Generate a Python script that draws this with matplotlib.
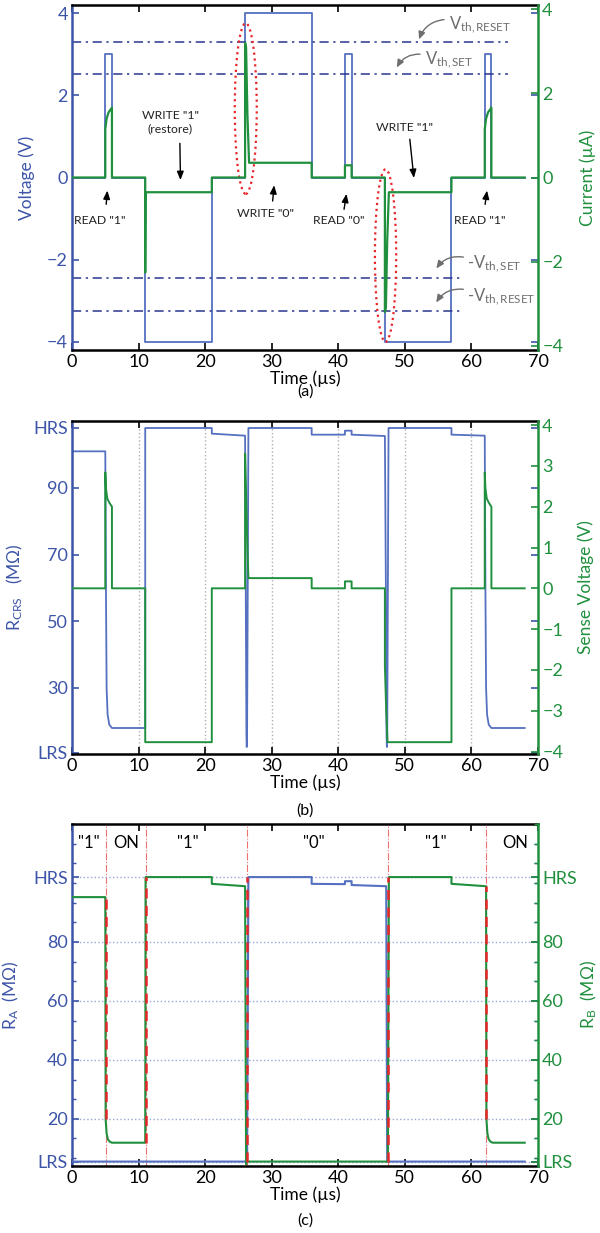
import matplotlib
matplotlib.use('Agg')
import matplotlib.pyplot as plt
from matplotlib.patches import Ellipse
from matplotlib.ticker import MultipleLocator

plt.rcParams['font.family'] = ['Lato', 'DejaVu Sans']
plt.rcParams['mathtext.fontset'] = 'custom'
plt.rcParams['mathtext.rm'] = 'Lato'
plt.rcParams['mathtext.it'] = 'Lato:italic'
plt.rcParams['mathtext.bf'] = 'Lato:bold'
plt.rcParams['xtick.direction'] = 'in'
plt.rcParams['ytick.direction'] = 'in'

BLUE = '#3d55a8'
BLUE_LINE = '#5570c0'
GREEN = '#20903e'
NAVY = '#2a3590'
GRAY = '#6e6e6e'
RED = '#e8262a'

# ---- (a) applied voltage and current ----
t_v = [0, 5, 5, 6, 6, 11, 11, 21, 21, 26, 26, 36, 36, 41, 41, 42, 42, 47, 47, 57, 57, 62, 62, 63, 63, 68]
volt = [0, 0, 3, 3, 0, 0, -4, -4, 0, 0, 4, 4, 0, 0, 3, 3, 0, 0, -4, -4, 0, 0, 3, 3, 0, 0]

t_i = [0, 5, 5, 5.2, 5.5, 6, 6, 11, 11, 11.05, 21, 21, 26, 26, 26.15, 26.35, 26.6, 36, 36,
       41, 41, 42, 42, 47, 47, 47.15, 47.35, 47.6, 57, 57, 62, 62, 62.2, 62.5, 63, 63, 68]
curr = [0, 0, 1.15, 1.4, 1.55, 1.66, 0, 0, -2.26, -0.35, -0.35, 0, 0, 3.2, 3.1, 1.5, 0.35, 0.35, 0,
        0, 0.29, 0.29, 0, 0, -3.2, -3.1, -1.5, -0.35, -0.35, 0, 0, 1.15, 1.4, 1.55, 1.66, 0, 0]

vth_levels = [3.3, 2.53, -2.44, -3.25]
vth_ends = [65.5, 65.5, 58.7, 58.3]

# ---- (b) CRS resistance and sense voltage ----
t_r = [0, 5, 5.1, 5.2, 5.35, 5.6, 6, 11, 11, 21, 21, 26, 26.1, 26.2, 26.25, 26.3, 26.4, 26.5, 36, 36,
       41, 41, 42, 42, 47, 47.15, 47.25, 47.3, 47.35, 47.45, 47.55, 57, 57, 62, 62.1, 62.2, 62.35, 62.6, 63, 68]
r_crs = [101, 101, 60, 30, 22, 19, 18, 18, 108, 108, 106.3, 105.7, 60, 16, 12.3, 16, 60, 108, 108, 106,
         106, 107.2, 107.2, 106, 105.6, 60, 16, 12.3, 16, 60, 108, 108, 106, 105.7, 60, 30, 22, 19, 18, 18]

t_s = [0, 5, 5, 5.1, 5.3, 5.6, 6, 6, 11, 11, 21, 21, 26, 26, 26.2, 26.35, 26.5, 36, 36,
       41, 41, 42, 42, 47, 47, 47.2, 47.4, 57, 57, 62, 62, 62.1, 62.3, 62.6, 63, 63, 68]
sense = [0, 0, 2.84, 2.45, 2.2, 2.1, 2.0, 0, 0, -3.77, -3.77, 0, 0, 3.3, 2.0, 1.0, 0.25, 0.25, 0,
         0, 0.17, 0.17, 0, 0, -1.9, -3.0, -3.77, -3.77, 0, 0, 2.84, 2.45, 2.2, 2.1, 2.0, 0, 0]

# ---- (c) R_A and R_B ----
LRS_C = 5.5
HRS_C = 102
t_a = [0, 26.3, 26.5, 36, 36, 41, 41, 42, 42, 47.2, 47.35, 68]
r_a = [LRS_C, LRS_C, 102, 102, 99.7, 99.6, 100.6, 100.6, 99.3, 98.9, LRS_C, LRS_C]

t_b = [0, 5, 5.05, 5.2, 5.4, 5.7, 6, 11, 11.05, 21, 21, 26, 26.15, 26.25, 47.45, 47.6, 57, 57,
       62.2, 62.25, 62.4, 62.6, 62.9, 63.2, 68]
r_b = [95.2, 95.2, 20, 15, 13, 12.2, 11.9, 11.9, 102, 102, 99.7, 98.9, 4.6, LRS_C, LRS_C, 102, 102, 99.7,
       98.9, 20, 15, 13, 12.2, 11.9, 11.9]

switch_t = [5.05, 11.05, 26.3, 47.4, 62.25]
switch_lo = [20, 11.9, LRS_C, LRS_C, 20]
switch_hi = [95.2, 102, 102, 102, 98.9]

state_labels = ['"1"', 'ON', '"1"', '"0"', '"1"', 'ON']
state_x = [2.6, 8.2, 17.4, 36.3, 54.6, 66.6]

fig = plt.figure(figsize=(6, 12.33), dpi=100)
H = 1233.0
W = 600.0


def make_axes(top, bottom):
    return fig.add_axes([72 / W, 1 - bottom / H, (538 - 72) / W, (bottom - top) / H])


def style(ax, ax2, lc, rc):
    for s in ['top', 'bottom']:
        ax.spines[s].set_color('black')
        ax.spines[s].set_linewidth(1.8)
    ax.spines['left'].set_color(lc)
    ax.spines['left'].set_linewidth(1.8)
    ax.spines['right'].set_visible(False)
    for s in ['left', 'top', 'bottom']:
        ax2.spines[s].set_visible(False)
    ax2.spines['right'].set_color(rc)
    ax2.spines['right'].set_linewidth(1.8)
    ax.tick_params(axis='x', top=True, colors='black', labelsize=13, length=5, width=1.2, pad=3)
    ax.tick_params(axis='y', right=True, colors=lc, labelsize=13, length=5, width=1.2, pad=3)
    ax2.tick_params(axis='y', colors=rc, labelsize=13, length=5, width=1.2, pad=3)
    ax.set_xlim(0, 70)
    ax.set_xticks(range(0, 71, 10))
    ax.set_xlabel('Time (\u00b5s)', fontsize=12.5, labelpad=0)


# ================= (a) =================
ax = make_axes(5, 350)
ax2 = ax.twinx()
style(ax, ax2, BLUE, GREEN)
ax.plot(t_v, volt, color=BLUE_LINE, lw=1.3)
ax2.plot(t_i, curr, color=GREEN, lw=1.6)
for lev, end in zip(vth_levels, vth_ends):
    ax.plot([0, end], [lev, lev], color=NAVY, lw=1.1, ls='-.', dashes=(6, 3, 1.5, 3))
ax.set_ylim(-4.2, 4.2)
ax2.set_ylim(-4.1, 4.1)
ax.set_yticks([-4, -2, 0, 2, 4])
ax2.set_yticks([-4, -2, 0, 2, 4])
ax.set_ylabel('Voltage (V)', color=BLUE, fontsize=12.5)
ax.yaxis.set_label_coords(-0.08, 0.5)
ax2.set_ylabel('Current (\u00b5A)', color=GREEN, fontsize=12.5, rotation=90)
ax2.yaxis.set_label_coords(1.088, 0.5)

ax.add_patch(Ellipse((26.1, 1.68), 3.3, 4.16, fill=False, ec=RED, ls=':', lw=1.6, zorder=5))
ax.add_patch(Ellipse((47.1, -1.9), 3.2, 4.2, fill=False, ec=RED, ls=':', lw=1.6, zorder=5))

notes = [
    ('WRITE "1"\n(restore)', (14.8, 1.35), (16.2, 0.9), (16.3, -0.13)),
    ('READ "1"', (4.2, -1.05), (5.1, -0.72), (5.35, -0.25)),
    ('WRITE "0"', (29.1, -0.87), (30.1, -0.64), (30.4, -0.12)),
    ('READ "0"', (40.1, -1.05), (40.8, -0.84), (41.3, -0.33)),
    ('WRITE "1"', (50.0, 1.22), (50.7, 1.0), (51.4, -0.08)),
    ('READ "1"', (61.3, -1.05), (62.0, -0.72), (62.4, -0.25)),
]
for txt, pos, start, tip in notes:
    ax.text(pos[0], pos[1], txt, ha='center', va='center', fontsize=8.8, color='#222222',
            linespacing=1.25)
    ax.annotate('', xy=tip, xytext=start,
                arrowprops=dict(arrowstyle='-|>,head_length=0.5,head_width=0.2', color='black', lw=1.0))

vth_notes = [
    (r'$\mathrm{V}_{\mathrm{th,RESET}}$', (56.6, 3.72), (56.3, 3.85), (52.0, 3.3)),
    (r'$\mathrm{V}_{\mathrm{th,SET}}$', (53.0, 2.88), (52.7, 3.0), (48.6, 2.62)),
    (r'-$\mathrm{V}_{\mathrm{th,SET}}$', (59.4, -2.1), (59.2, -1.95), (54.5, -2.27)),
    (r'-$\mathrm{V}_{\mathrm{th,RESET}}$', (59.4, -2.9), (59.2, -2.73), (54.5, -3.1)),
]
for txt, pos, start, tip in vth_notes:
    ax.text(pos[0], pos[1], txt, ha='left', va='center', fontsize=12, color=GRAY)
    ax.annotate('', xy=tip, xytext=start,
                arrowprops=dict(arrowstyle='-|>,head_length=0.45,head_width=0.2', color=GRAY, lw=1.0,
                                connectionstyle='arc3,rad=0.35'))

fig.text(305 / W, 1 - 392 / H, '(a)', ha='center', va='center', fontsize=11.5)

# ================= (b) =================
bx = make_axes(421, 754)
bx2 = bx.twinx()
style(bx, bx2, BLUE, GREEN)
bx.grid(axis='x', color='#b0b0b0', ls=':', lw=1.0)
bx.plot(t_r, r_crs, color=BLUE_LINE, lw=1.3)
bx2.plot(t_s, sense, color=GREEN, lw=1.4)
bx.set_ylim(10.2, 110.1)
bx.set_yticks([10.6, 30, 50, 70, 90, 108])
bx.set_yticklabels(['LRS', '30', '50', '70', '90', 'HRS'])
bx2.set_ylim(-4.06, 4.1)
bx2.set_yticks(range(-4, 5))
bx.set_ylabel(r'$\mathrm{R}_{\mathrm{CRS}}$   (M$\Omega$)', color=BLUE, fontsize=12.5)
bx.yaxis.set_label_coords(-0.1, 0.5)
bx2.set_ylabel('Sense Voltage (V)', color=GREEN, fontsize=12.5, rotation=90)
bx2.yaxis.set_label_coords(1.085, 0.5)
fig.text(305 / W, 1 - 811 / H, '(b)', ha='center', va='center', fontsize=11.5)

# ================= (c) =================
cx = make_axes(824, 1166)
cx2 = cx.twinx()
style(cx, cx2, BLUE, GREEN)
cx.grid(axis='y', color='#9aa4d8', ls=':', lw=1.0)
for t0 in switch_t:
    cx.axvline(t0, color='#f07070', lw=0.8, ls='-.', zorder=1)
cx.plot(t_a, r_a, color=BLUE_LINE, lw=1.5, zorder=3)
cx.plot(t_b, r_b, color=GREEN, lw=1.5, zorder=3)
for t0, lo, hi in zip(switch_t, switch_lo, switch_hi):
    cx.plot([t0, t0], [lo, hi], color=RED, lw=1.8, ls='--', dashes=(4, 3), zorder=4)
for lbl, xx in zip(state_labels, state_x):
    cx.text(xx, 113.6, lbl, ha='center', va='center', fontsize=12)
for a in (cx, cx2):
    a.set_ylim(4, 120)
    a.set_yticks([LRS_C, 20, 40, 60, 80, HRS_C])
    a.set_yticklabels(['LRS', '20', '40', '60', '80', 'HRS'])
    a.yaxis.set_minor_locator(MultipleLocator(20 / 3))
cx.tick_params(axis='y', which='minor', right=True, colors=BLUE, length=3, width=1)
cx2.tick_params(axis='y', which='minor', colors=GREEN, length=3, width=1)
cx.set_ylabel(r'$\mathrm{R}_{\mathrm{A}}$  (M$\Omega$)', color=BLUE, fontsize=12.5)
cx.yaxis.set_label_coords(-0.11, 0.5)
cx2.set_ylabel(r'$\mathrm{R}_{\mathrm{B}}$  (M$\Omega$)', color=GREEN, fontsize=12.5, rotation=90)
cx2.yaxis.set_label_coords(1.088, 0.5)
fig.text(305 / W, 1 - 1221 / H, '(c)', ha='center', va='center', fontsize=11.5)

fig.savefig('out.png', dpi=100)
